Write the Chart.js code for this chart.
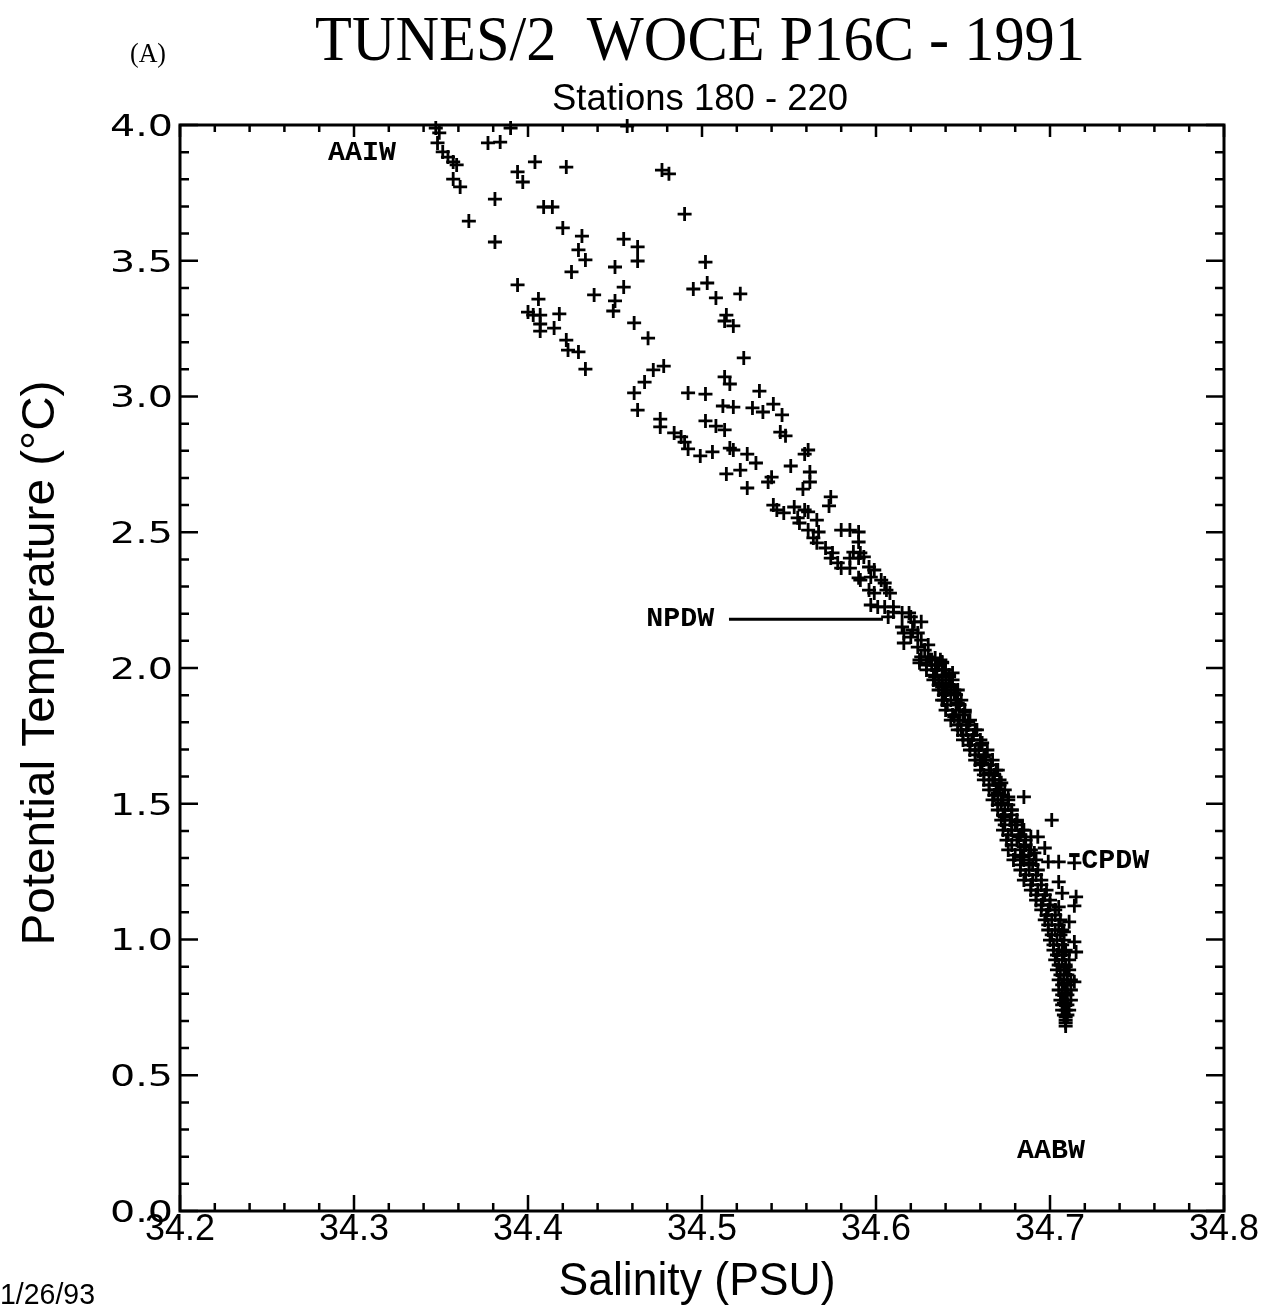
<!DOCTYPE html>
<html><head><meta charset="utf-8">
<script src="https://cdn.jsdelivr.net/npm/chart.js@4.4.1/dist/chart.umd.min.js"></script>
<style>html,body{margin:0;padding:0;background:#fff;} #wrap{width:1269px;height:1312px;position:relative;}</style>
</head><body><div id="wrap"><canvas id="c" width="1269" height="1312"></canvas></div>
<script>
// ---- Data: [salinity (PSU), potential temperature (°C)] ----
const aaiwBranch = [
 [34.347,3.989],[34.349,3.971],[34.348,3.934],[34.351,3.901],[34.354,3.882],[34.357,3.864],[34.359,3.853],[34.357,3.801],[34.361,3.772],[34.366,3.646],
 [34.377,3.934],[34.384,3.937],[34.390,3.989],[34.381,3.727],[34.381,3.569],[34.394,3.827],[34.397,3.790],[34.404,3.864],[34.422,3.845],[34.409,3.698],
 [34.414,3.698],[34.420,3.621],[34.431,3.591],[34.429,3.540],[34.433,3.503],[34.425,3.459],[34.394,3.411],[34.406,3.359],[34.400,3.311],[34.403,3.300],
 [34.407,3.300],[34.407,3.267],[34.407,3.241],[34.418,3.304],[34.415,3.252],[34.422,3.208],[34.423,3.171],[34.429,3.164],[34.433,3.101],[34.450,3.477],
 [34.463,3.499],[34.455,3.403],[34.438,3.374],[34.450,3.352],[34.449,3.315],[34.461,3.271],[34.469,3.215],[34.457,3.996],[34.455,3.580],[34.463,3.551],
 [34.477,3.834],[34.481,3.820],[34.490,3.672],[34.502,3.495],[34.503,3.418],[34.495,3.396],[34.508,3.363],[34.522,3.378],[34.514,3.300],[34.513,3.278],
 [34.518,3.260],[34.524,3.142]
];
const midBranch = [
 [34.472,3.098],[34.478,3.112],[34.467,3.053],[34.461,3.013],[34.463,2.950],[34.492,3.013],[34.502,3.009],[34.513,3.072],[34.516,3.046],[34.533,3.020],
 [34.512,2.965],[34.518,2.961],[34.529,2.958],[34.535,2.943],[34.541,2.972],[34.546,2.932],[34.476,2.917],[34.476,2.888],[34.484,2.866],[34.488,2.851],
 [34.490,2.832],[34.492,2.807],[34.499,2.781],[34.506,2.796],[34.502,2.910],[34.508,2.891],[34.513,2.877],[34.516,2.810],[34.518,2.803],[34.526,2.788],
 [34.531,2.755],[34.522,2.729],[34.514,2.715],[34.526,2.663],[34.538,2.685],[34.540,2.703],[34.545,2.869],[34.548,2.855],[34.551,2.744],[34.561,2.803],
 [34.559,2.788],[34.562,2.722],[34.562,2.685],[34.558,2.659],[34.574,2.630],[34.573,2.597]
];
const npdwBranch = [
 [34.541,2.600],[34.543,2.582],[34.547,2.571],[34.553,2.593],[34.559,2.582],[34.561,2.575],[34.555,2.553],[34.556,2.534],[34.566,2.545],[34.561,2.508],
 [34.567,2.501],[34.564,2.479],[34.566,2.461],[34.580,2.508],[34.585,2.508],[34.590,2.501],[34.590,2.464],[34.571,2.442],[34.575,2.424],[34.574,2.405],
 [34.578,2.387],[34.580,2.368],[34.585,2.368],[34.587,2.427],[34.591,2.424],[34.585,2.405],[34.590,2.405],[34.593,2.409],[34.596,2.372],[34.599,2.361],
 [34.590,2.332],[34.591,2.324],[34.597,2.335],[34.603,2.324],[34.605,2.313],[34.596,2.287],[34.599,2.276],[34.606,2.287],[34.608,2.276],[34.597,2.232],
 [34.601,2.225],[34.605,2.225],[34.610,2.225],[34.610,2.206],[34.607,2.188],[34.615,2.203],[34.619,2.203],[34.620,2.188],[34.622,2.170],[34.626,2.170],
 [34.615,2.151],[34.616,2.129],[34.621,2.140],[34.624,2.129],[34.616,2.092],[34.620,2.114],[34.626,2.103],[34.630,2.085],[34.624,2.077],[34.628,2.066],
 [34.626,2.041],[34.630,2.041],[34.634,2.037],[34.632,2.011],[34.638,2.022],[34.634,1.993],[34.639,1.993],[34.638,1.967],[34.642,1.967],[34.644,1.982],
 [34.638,1.945],[34.643,1.930],[34.640,1.908],[34.645,1.908]
];
const deepCore = [
 [34.625,2.019],[34.632,2.030],[34.638,2.019],[34.642,1.974],[34.634,1.967],[34.638,1.930],[34.645,1.919],[34.639,1.882],[34.647,1.871],[34.651,1.838],
 [34.645,1.820],[34.653,1.801],[34.649,1.772],[34.658,1.772],[34.653,1.735],[34.661,1.724],[34.657,1.698],[34.662,1.672],[34.661,1.650],[34.670,1.624],
 [34.665,1.613],[34.668,1.588],[34.672,1.577],[34.670,1.540],[34.676,1.525],[34.685,1.525],[34.672,1.503],[34.678,1.477],[34.674,1.451],[34.681,1.433],
 [34.678,1.403],[34.685,1.403],[34.682,1.378],[34.689,1.378],[34.693,1.378],[34.685,1.341],[34.697,1.337],[34.684,1.304],[34.691,1.319],[34.701,1.440],
 [34.688,1.282],[34.699,1.286],[34.705,1.286],[34.714,1.282],
 [34.625,2.030],[34.631,2.030],[34.637,2.030],[34.629,1.993],[34.635,1.993],[34.640,1.993],[34.633,1.956],[34.638,1.956],[34.644,1.956],
 [34.636,1.919],[34.641,1.919],[34.647,1.919],[34.638,1.882],[34.643,1.882],[34.649,1.882],[34.640,1.845],[34.646,1.845],[34.651,1.845],
 [34.643,1.808],[34.648,1.808],[34.654,1.808],[34.647,1.772],[34.652,1.772],[34.657,1.772],[34.650,1.735],[34.655,1.735],[34.660,1.735],
 [34.654,1.698],[34.659,1.698],[34.664,1.698],[34.657,1.661],[34.662,1.661],[34.667,1.661],[34.660,1.624],[34.665,1.624],[34.669,1.624],
 [34.662,1.588],[34.667,1.588],[34.671,1.588],[34.665,1.551],[34.669,1.551],[34.674,1.551],[34.667,1.514],[34.672,1.514],[34.676,1.514],
 [34.670,1.477],[34.674,1.477],[34.678,1.477],[34.672,1.440],[34.677,1.440],[34.681,1.440],[34.673,1.403],[34.678,1.403],[34.684,1.403],
 [34.675,1.366],[34.681,1.366],[34.686,1.366],[34.676,1.330],[34.683,1.330],[34.689,1.330],[34.679,1.293],[34.685,1.293],[34.692,1.293],
 [34.683,1.256],[34.688,1.256],[34.693,1.256],[34.685,1.219],[34.690,1.219],[34.695,1.219],[34.689,1.182],[34.693,1.182],[34.698,1.182],
 [34.692,1.145],[34.696,1.145],[34.700,1.145],[34.695,1.109],[34.699,1.109],[34.703,1.109],[34.697,1.072],[34.701,1.072],[34.706,1.072],
 [34.699,1.035],[34.703,1.035],[34.707,1.035],[34.700,0.998],[34.704,0.998],[34.708,0.998],[34.702,0.961],[34.705,0.961],[34.709,0.961],
 [34.703,0.925],[34.707,0.925],[34.711,0.925],[34.704,0.888],[34.708,0.888],[34.711,0.888],[34.705,0.851],[34.708,0.851],[34.712,0.851],
 [34.705,0.814],[34.709,0.814],[34.712,0.814],[34.706,0.777],[34.709,0.777],[34.712,0.777],[34.707,0.740],[34.709,0.740],[34.711,0.740],
 [34.709,0.703],[34.709,0.681],
 [34.629,2.011],[34.636,2.011],[34.633,1.974],[34.640,1.974],[34.636,1.938],[34.643,1.938],[34.639,1.901],[34.646,1.901],[34.641,1.864],[34.648,1.864],
 [34.644,1.827],[34.650,1.827],[34.647,1.790],[34.653,1.790],[34.650,1.753],[34.656,1.753],[34.654,1.716],[34.660,1.716],[34.657,1.680],[34.663,1.680],
 [34.660,1.643],[34.666,1.643],[34.662,1.606],[34.668,1.606],[34.665,1.569],[34.671,1.569],[34.668,1.532],[34.673,1.532],[34.670,1.496],[34.676,1.496],
 [34.673,1.459],[34.678,1.459],[34.674,1.422],[34.680,1.422],[34.676,1.385],[34.683,1.385],[34.678,1.348],[34.686,1.348],[34.680,1.311],[34.688,1.311],
 [34.683,1.275],[34.690,1.275],[34.686,1.238],[34.692,1.238],[34.689,1.201],[34.695,1.201],[34.692,1.164],[34.697,1.164],[34.695,1.127],[34.700,1.127],
 [34.698,1.090],[34.703,1.090],[34.699,1.054],[34.705,1.054],[34.701,1.017],[34.706,1.017],[34.702,0.980],[34.707,0.980],[34.704,0.943],[34.708,0.943],
 [34.705,0.906],[34.709,0.906],[34.706,0.870],[34.710,0.870],[34.707,0.833],[34.710,0.833],[34.707,0.796],[34.710,0.796],[34.707,0.759],[34.710,0.759],
 [34.708,0.722],[34.710,0.722]
];
const cpdwOutliers = [
 [34.705,1.212],[34.707,1.171],[34.715,1.157],[34.714,1.124],[34.705,1.120],[34.711,1.065],[34.708,1.028],[34.714,0.991],[34.715,0.954],[34.708,0.954],
 [34.709,0.899],[34.714,0.844],[34.708,0.840],[34.709,0.803],[34.708,0.766],[34.709,0.715],[34.709,0.693]
];
const npdwLeader = [[34.5155,2.180],[34.604,2.180]];
const cpdwLeader = [[34.711,1.311],[34.717,1.311]];

const xRange = [34.2, 34.8];
const yRange = [0, 4];
const xTickValues = [34.2, 34.3, 34.4, 34.5, 34.6, 34.7, 34.8];
const yTickValues = [0, 0.5, 1, 1.5, 2, 2.5, 3, 3.5, 4];
const xMinorStep = 0.02;
const yMinorStep = 0.1;

const titleText = 'TUNES/2  WOCE P16C - 1991';
const subtitleText = 'Stations 180 - 220';
const panelText = '(A)';
const xTitle = 'Salinity (PSU)';
const yTitle = 'Potential Temperature (°C)';
const dateText = '1/26/93';
const waterMasses = [
  {name:'AAIW', s:34.285, t:3.87},
  {name:'NPDW', s:34.468, t:2.155},
  {name:'CPDW', s:34.718, t:1.265},
  {name:'AABW', s:34.681, t:0.195}
];

// ---- Chart ----
const toXY = arr => arr.map(p => ({x:p[0], y:p[1]}));
const crossStyle = {type:'scatter', pointStyle:'cross', pointRadius:7, pointBorderWidth:2.8,
  borderColor:'#000', backgroundColor:'#000', pointHoverRadius:7, clip:false};

function fitText(ctx, text, x, y, font, width, align, baseline){
  ctx.save();
  ctx.font = font;
  const w = ctx.measureText(text).width;
  const s = width ? width / w : 1;
  ctx.translate(x, y);
  ctx.scale(s, 1);
  ctx.textAlign = align; ctx.textBaseline = baseline;
  ctx.fillText(text, 0, 0);
  ctx.restore();
}

const decor = {
  id:'decor',
  afterDraw(chart){
    const {ctx, chartArea:a, scales:{x, y}} = chart;
    ctx.save();
    ctx.fillStyle = '#000'; ctx.strokeStyle = '#000';
    // frame
    ctx.lineWidth = 3;
    ctx.strokeRect(a.left, a.top, a.right - a.left, a.bottom - a.top);
    // inward ticks
    ctx.lineWidth = 2.5;
    ctx.beginPath();
    const nx = Math.round((xRange[1]-xRange[0])/xMinorStep);
    for (let i = 0; i <= nx; i++){
      const px = x.getPixelForValue(xRange[0] + i*xMinorStep);
      const major = i % 5 === 0;
      ctx.moveTo(px, a.bottom); ctx.lineTo(px, a.bottom - (major ? 16 : 8));
      ctx.moveTo(px, a.top); ctx.lineTo(px, a.top + (major ? 12 : 7));
    }
    const ny = Math.round((yRange[1]-yRange[0])/yMinorStep);
    for (let i = 0; i <= ny; i++){
      const py = y.getPixelForValue(yRange[0] + i*yMinorStep);
      const major = i % 5 === 0;
      ctx.moveTo(a.left, py); ctx.lineTo(a.left + (major ? 18 : 9), py);
      ctx.moveTo(a.right, py); ctx.lineTo(a.right - (major ? 18 : 9), py);
    }
    ctx.stroke();
    // tick labels
    ctx.font = '30px "DejaVu Sans"';
    const ys = 63 / ctx.measureText('4.0').width;
    yTickValues.forEach(v => {
      const py = y.getPixelForValue(v);
      ctx.save(); ctx.font = '30px "DejaVu Sans"';
      ctx.translate(a.left - 7, py + 3); ctx.scale(ys, 1);
      ctx.textAlign = 'right'; ctx.textBaseline = 'middle';
      ctx.fillText(v.toFixed(1), 0, 0); ctx.restore();
    });
    ctx.font = '37px "Liberation Sans"';
    const xs = 70 / ctx.measureText('34.5').width;
    xTickValues.forEach(v => {
      const px = x.getPixelForValue(v);
      ctx.save(); ctx.font = '37px "Liberation Sans"';
      ctx.translate(px, a.bottom + 29); ctx.scale(xs, 1);
      ctx.textAlign = 'center'; ctx.textBaseline = 'alphabetic';
      ctx.fillText(v.toFixed(1), 0, 0); ctx.restore();
    });
    // titles
    fitText(ctx, titleText, 700, 60, '64px "Liberation Serif"', 770, 'center', 'alphabetic');
    fitText(ctx, panelText, 148, 62, '27px "Liberation Serif"', 36, 'center', 'alphabetic');
    fitText(ctx, subtitleText, 700, 110, '36px "Liberation Sans"', 296, 'center', 'alphabetic');
    fitText(ctx, xTitle, 697, 1295, '46px "Liberation Sans"', 277, 'center', 'alphabetic');
    fitText(ctx, dateText, 0, 1304, '29px "Liberation Sans"', 95, 'left', 'alphabetic');
    ctx.save();
    ctx.translate(54, 663); ctx.rotate(-Math.PI/2);
    fitText(ctx, yTitle, 0, 0, '46px "Liberation Sans"', 565, 'center', 'alphabetic');
    ctx.restore();
    // water mass labels
    waterMasses.forEach(m => {
      fitText(ctx, m.name, x.getPixelForValue(m.s), y.getPixelForValue(m.t), 'bold 27px "Liberation Mono"', 68, 'left', 'alphabetic');
    });
    ctx.restore();
  }
};

new Chart(document.getElementById('c'), {
  data: {
    datasets: [
      Object.assign({label:'AAIW branch', data: toXY(aaiwBranch)}, crossStyle),
      Object.assign({label:'Mid branch', data: toXY(midBranch)}, crossStyle),
      Object.assign({label:'NPDW branch', data: toXY(npdwBranch)}, crossStyle),
      Object.assign({label:'Deep core', data: toXY(deepCore)}, crossStyle),
      Object.assign({label:'CPDW', data: toXY(cpdwOutliers)}, crossStyle),
      {type:'line', label:'NPDW leader', data: toXY(npdwLeader), borderColor:'#000', borderWidth:3, pointRadius:0, fill:false},
      {type:'line', label:'CPDW leader', data: toXY(cpdwLeader), borderColor:'#000', borderWidth:4, pointRadius:0, fill:false}
    ]
  },
  options: {
    responsive:false, devicePixelRatio:1, animation:false,
    layout:{padding:{left:180, right:45, top:125, bottom:101}},
    plugins:{legend:{display:false}, tooltip:{enabled:false}, title:{display:false}},
    scales:{
      x:{type:'linear', min:xRange[0], max:xRange[1], display:false},
      y:{type:'linear', min:yRange[0], max:yRange[1], display:false}
    }
  },
  plugins:[decor]
});
</script></body></html>
